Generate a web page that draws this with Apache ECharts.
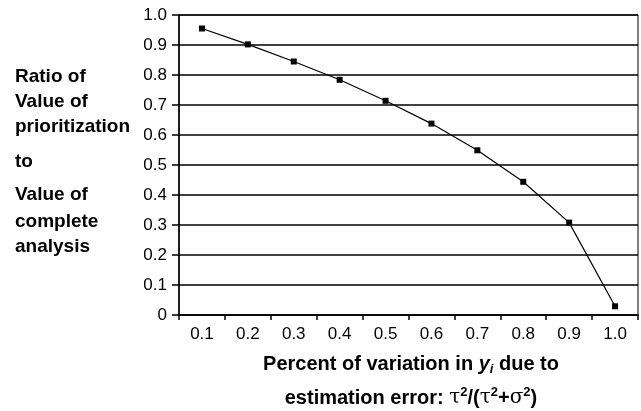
<!DOCTYPE html>
<html>
<head>
<meta charset="utf-8">
<script src="https://cdn.jsdelivr.net/npm/echarts@6/dist/echarts.min.js"></script>
<style>
  html, body { margin: 0; padding: 0; background: #fff; }
  #chart { width: 641px; height: 411px; }
</style>
</head>
<body>
<div id="chart"></div>
<script>
const categories = ["0.1", "0.2", "0.3", "0.4", "0.5", "0.6", "0.7", "0.8", "0.9", "1.0"];
const ratioValues = [0.955, 0.902, 0.845, 0.784, 0.714, 0.638, 0.549, 0.444, 0.308, 0.029];
const yLabelLines = ["Ratio of", "Value of", "prioritization", "to", "Value of", "complete", "analysis"];
const yLabelRows = [77, 102, 127, 162, 195, 222, 247];

const font = "Liberation Sans, Arial, Helvetica, sans-serif";
const chart = echarts.init(document.getElementById("chart"));

// left-hand axis title, one text per line
const leftTitle = yLabelLines.map((line, i) => ({
  type: "text",
  x: 15,
  y: yLabelRows[i],
  style: {
    text: line,
    fill: "#000",
    font: "bold 19px " + font,
    textVerticalAlign: "middle",
  },
}));

const rich = {
  b: { fontFamily: font, fontWeight: "bold", fontSize: 20, lineHeight: 24, color: "#000" },
  it: { fontFamily: font, fontWeight: "bold", fontStyle: "italic", fontSize: 20, lineHeight: 24, color: "#000" },
  sub: { fontFamily: font, fontWeight: "bold", fontStyle: "italic", fontSize: 13, lineHeight: 13, verticalAlign: "bottom", color: "#000" },
  sym: { fontFamily: "DejaVu Serif, serif", fontSize: 20, lineHeight: 24, color: "#000" },
  sup: { fontFamily: font, fontWeight: "bold", fontSize: 13, lineHeight: 13, verticalAlign: "top", color: "#000" },
};

const option = {
  backgroundColor: "#fff",
  animation: false,
  grid: {
    left: 179,
    right: 3,
    top: 15,
    bottom: 96,
    show: true,
    borderColor: "#000",
    borderWidth: 1,
  },
  xAxis: {
    type: "category",
    data: categories,
    boundaryGap: true,
    axisLine: { lineStyle: { color: "#000", width: 1.5 } },
    axisTick: { show: true, length: 5, interval: 0, lineStyle: { color: "#000", width: 1.5 } },
    axisLabel: { color: "#000", fontFamily: font, fontSize: 17, margin: 11, interval: 0 },
    splitLine: { show: false },
  },
  yAxis: {
    type: "value",
    min: 0,
    max: 1,
    interval: 0.1,
    axisLine: { show: true, lineStyle: { color: "#000", width: 1.5 } },
    axisTick: { show: true, length: 7, lineStyle: { color: "#000", width: 1.5 } },
    axisLabel: {
      color: "#000",
      fontFamily: font,
      fontSize: 17,
      margin: 12,
      formatter: (v) => (v === 0 ? "0" : v.toFixed(1)),
    },
    splitLine: { show: true, lineStyle: { color: "#000", width: 1.5 } },
  },
  series: [
    {
      type: "line",
      data: ratioValues,
      symbol: "rect",
      symbolSize: 6,
      itemStyle: { color: "#000" },
      lineStyle: { color: "#000", width: 1.2 },
    },
  ],
  graphic: leftTitle.concat([
    {
      type: "text",
      x: 411,
      y: 364,
      style: {
        text: "{b|Percent of variation in }{it|y}{sub|i}{b| due to}",
        rich: rich,
        textAlign: "center",
        textVerticalAlign: "middle",
      },
    },
    {
      type: "text",
      x: 411,
      y: 398,
      style: {
        text: "{b|estimation error: }{sym|τ}{sup|2}{b|/(}{sym|τ}{sup|2}{b|+}{sym|σ}{sup|2}{b|)}",
        rich: rich,
        textAlign: "center",
        textVerticalAlign: "middle",
      },
    },
  ]),
};

chart.setOption(option);
</script>
</body>
</html>
